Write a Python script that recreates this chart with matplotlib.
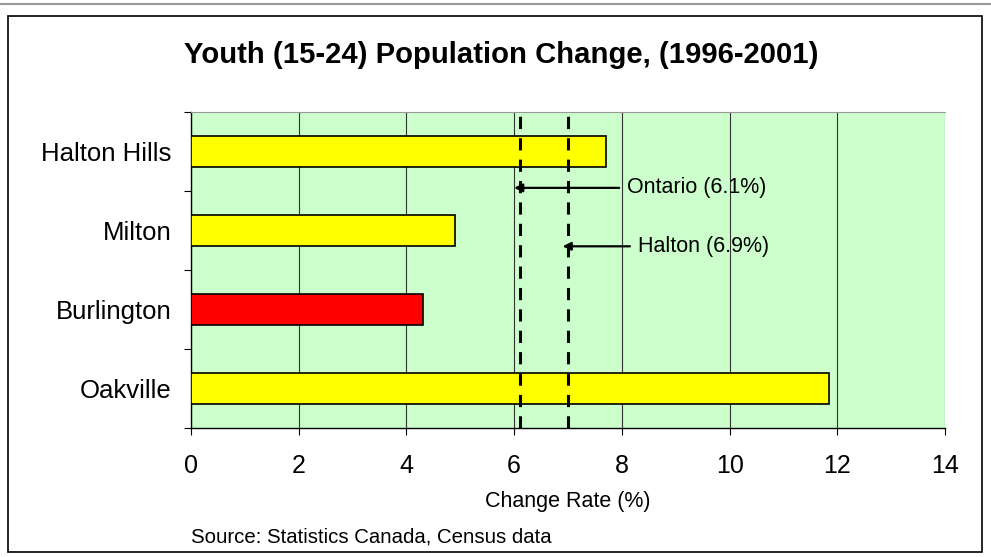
import matplotlib.pyplot as plt
from matplotlib.patches import Rectangle
from matplotlib.lines import Line2D

plt.rcParams["font.family"] = ["Liberation Sans", "DejaVu Sans"]

towns = ["Halton Hills", "Milton", "Burlington", "Oakville"]
change = [7.7, 4.9, 4.3, 11.85]
colors = ["#FFFF00", "#FFFF00", "#FF0000", "#FFFF00"]

ref_names = ["Ontario (6.1%)", "Halton (6.9%)"]
ref_pos = [6.1, 7.0]
ref_label_y = [0.46, 1.2]
ref_label_x = [8.1, 8.3]

xticks = [0, 2, 4, 6, 8, 10, 12, 14]

fig = plt.figure(figsize=(9.91, 5.57), dpi=100)
ax = fig.add_axes([0.1927, 0.2316, 0.7609, 0.5673])
ax.set_facecolor("#CCFFCC")

ypos = list(range(len(towns)))
ax.barh(ypos, change, height=0.4, color=colors, edgecolor="black", linewidth=1.2, zorder=3)

ax.set_xlim(0, 14)
ax.set_ylim(len(towns) - 0.5, -0.5)
ax.set_xticks(xticks)
ax.set_xticklabels([str(t) for t in xticks], fontsize=18)
ax.tick_params(axis="x", length=5, width=0.8, pad=14)

ax.set_yticks(ypos)
ax.set_yticklabels(towns, fontsize=18.5)
ax.tick_params(axis="y", length=0, pad=14)
ax.set_yticks([y + 0.5 for y in range(-1, len(towns))], minor=True)
ax.tick_params(axis="y", which="minor", length=5, width=0.8)

ax.grid(axis="x", color="#333333", linewidth=0.8, zorder=1)
ax.set_axisbelow(True)

ax.spines["top"].set_color("#999999")
ax.spines["right"].set_visible(False)
ax.spines["left"].set_linewidth(1.0)
ax.spines["bottom"].set_linewidth(1.0)

for x in ref_pos:
    ax.axvline(x, color="black", linestyle=(0, (4, 3)), linewidth=2.2, zorder=4)

for name, x, lx, ly in zip(ref_names, ref_pos, ref_label_x, ref_label_y):
    ax.annotate("", xy=(x - 0.1, ly), xytext=(lx - 0.15, ly),
                arrowprops=dict(arrowstyle="-|>", color="black", lw=1.6,
                                mutation_scale=12, shrinkA=0, shrinkB=0), zorder=5)
    ax.text(lx, ly, name, fontsize=15.5, va="center", ha="left", zorder=5)

ax.set_xlabel("Change Rate (%)", fontsize=15.5, labelpad=9)

fig.text(501 / 991, 1 - 55 / 557, "Youth (15-24) Population Change, (1996-2001)",
         fontsize=21.1, fontweight="bold", ha="center", va="center")
fig.text(0.1927, 1 - 537 / 557, "Source: Statistics Canada, Census data", fontsize=14.7,
         ha="left", va="center")

# outer chart frame and top grey rule
fig.add_artist(Rectangle((8 / 991, 1 - 552 / 557), 974 / 991, 536 / 557,
                         transform=fig.transFigure, fill=False,
                         edgecolor="black", linewidth=1.2))
fig.add_artist(Line2D([0, 1], [1 - 4 / 557, 1 - 4 / 557], transform=fig.transFigure,
                      color="#999999", linewidth=1.5))

fig.savefig("out.png", dpi=100)
